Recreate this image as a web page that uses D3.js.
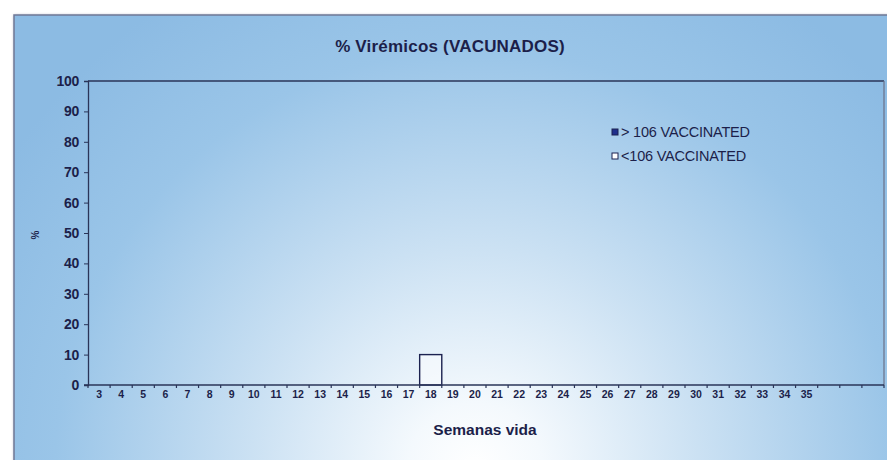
<!DOCTYPE html>
<html>
<head>
<meta charset="utf-8">
<script src="https://cdn.jsdelivr.net/npm/d3@7"></script>
<style>
  html, body { margin: 0; padding: 0; background: #ffffff; }
  svg { display: block; }
  text { font-family: Arial, "Liberation Sans", sans-serif; fill: #1c1f4a; }
</style>
</head>
<body>
<svg id="chart" width="887" height="460"></svg>
<script>
// Weeks of life shown on the category axis (last three slots carry no label)
const weeks = [3,4,5,6,7,8,9,10,11,12,13,14,15,16,17,18,19,20,21,22,23,24,25,26,27,28,29,30,31,32,33,34,35,36,37,38];
const weekLabels = weeks.map(w => w <= 35 ? String(w) : "");
// % viremic animals per week
const gt106 = weeks.map(() => 0);
const lt106 = weeks.map(w => w === 18 ? 10 : 0);
const yTicks = [0,10,20,30,40,50,60,70,80,90,100];
const seriesNames = ["> 106 VACCINATED", "<106 VACCINATED"];

const svg = d3.select("#chart");
const defs = svg.append("defs");

const grad = defs.append("radialGradient")
  .attr("id", "bg").attr("gradientUnits", "userSpaceOnUse")
  .attr("cx", 475).attr("cy", 470).attr("r", 560)
  .attr("fx", 475).attr("fy", 470);
grad.append("stop").attr("offset", 0).attr("stop-color", "#ffffff");
grad.append("stop").attr("offset", 0.12).attr("stop-color", "#f4f9fd");
grad.append("stop").attr("offset", 0.4).attr("stop-color", "#cbe1f3");
grad.append("stop").attr("offset", 0.75).attr("stop-color", "#9ac5e8");
grad.append("stop").attr("offset", 1).attr("stop-color", "#8cbbe3");

const shadow = defs.append("filter").attr("id", "shadow")
  .attr("x", "-5%").attr("y", "-5%").attr("width", "110%").attr("height", "110%");
shadow.append("feDropShadow").attr("dx", 1).attr("dy", 1).attr("stdDeviation", 1.5)
  .attr("flood-color", "#333344").attr("flood-opacity", 0.45);

// Chart frame
svg.append("rect")
  .attr("x", 14).attr("y", 15).attr("width", 900).attr("height", 470)
  .attr("fill", "url(#bg)")
  .attr("stroke", "#6f7896").attr("stroke-width", 1.5)
  .attr("filter", "url(#shadow)");

const plot = { left: 88, top: 81, right: 884, bottom: 385 };

const x = d3.scaleBand().domain(weeks).range([plot.left, plot.right]).padding(0);
const y = d3.scaleLinear().domain([0, 100]).range([plot.bottom, plot.top]);

// Plot area outline
svg.append("line").attr("x1", plot.left).attr("x2", plot.right)
  .attr("y1", plot.top).attr("y2", plot.top)
  .attr("stroke", "#2a3458").attr("stroke-width", 1.3);
svg.append("line").attr("x1", plot.right).attr("x2", plot.right)
  .attr("y1", plot.top).attr("y2", plot.bottom)
  .attr("stroke", "#6a7088").attr("stroke-width", 1.2);

// Bars
const g = svg.append("g");
g.selectAll("rect.gt").data(weeks).join("rect")
  .attr("class", "gt")
  .attr("x", d => x(d))
  .attr("width", x.bandwidth())
  .attr("y", (d, i) => y(gt106[i]))
  .attr("height", (d, i) => y(0) - y(gt106[i]))
  .attr("fill", "#1f2f8c")
  .attr("stroke", "#1c2250")
  .style("display", (d, i) => gt106[i] > 0 ? null : "none");
g.selectAll("rect.lt").data(weeks).join("rect")
  .attr("class", "lt")
  .attr("x", d => x(d))
  .attr("width", x.bandwidth())
  .attr("y", (d, i) => y(lt106[i]))
  .attr("height", (d, i) => y(0) - y(lt106[i]))
  .attr("fill", "#ffffff").attr("fill-opacity", 0.45)
  .attr("stroke", "#1c2250").attr("stroke-width", 1.4)
  .style("display", (d, i) => lt106[i] > 0 ? null : "none");

// Y axis
const yAxis = svg.append("g")
  .attr("transform", `translate(${plot.left},0)`)
  .call(d3.axisLeft(y).tickValues(yTicks).tickSize(4).tickPadding(5));
yAxis.select(".domain").attr("stroke", "#2a3458").attr("stroke-width", 1.3);
yAxis.selectAll(".tick line").attr("stroke", "#2a3458");
yAxis.selectAll(".tick text")
  .style("font-size", "14px").style("font-weight", "bold")
  .style("letter-spacing", "-0.3px")
  .attr("fill", "#1c1f4a");

// X axis: ticks sit between categories, labels at category centres
const xAxis = svg.append("g").attr("transform", `translate(0,${plot.bottom})`);
xAxis.append("line").attr("x1", plot.left - 4).attr("x2", plot.right)
  .attr("y1", 0).attr("y2", 0)
  .attr("stroke", "#2a3458").attr("stroke-width", 1.3);
const boundaries = weeks.map(w => x(w)).concat([plot.right]);
xAxis.selectAll("line.tk").data(boundaries).join("line")
  .attr("class", "tk")
  .attr("x1", d => d).attr("x2", d => d)
  .attr("y1", 0).attr("y2", 3)
  .attr("stroke", "#2a3458").attr("stroke-width", 1.2);
xAxis.selectAll("text.lbl").data(weeks).join("text")
  .attr("class", "lbl")
  .attr("x", d => x(d) + x.bandwidth() / 2)
  .attr("y", 13)
  .attr("text-anchor", "middle")
  .style("font-size", "10.5px").style("font-weight", "bold")
  .text((d, i) => weekLabels[i]);

// Titles
svg.append("text").attr("x", 450).attr("y", 52)
  .attr("text-anchor", "middle")
  .style("font-size", "17px").style("font-weight", "bold")
  .style("letter-spacing", "0.2px")
  .text("% Virémicos (VACUNADOS)");
svg.append("text").attr("x", 485).attr("y", 435)
  .attr("text-anchor", "middle")
  .style("font-size", "15.5px").style("font-weight", "bold")
  .text("Semanas vida");
svg.append("text")
  .attr("transform", "translate(35,235) rotate(-90)")
  .attr("text-anchor", "middle").attr("dy", "0.35em")
  .style("font-size", "10px").style("font-weight", "bold")
  .text("%");

// Legend
const legend = svg.append("g").attr("transform", "translate(612,129)");
const legendFill = ["#1f2f8c", "#ffffff"];
seriesNames.forEach((name, i) => {
  const row = legend.append("g").attr("transform", `translate(0,${i * 24})`);
  row.append("rect").attr("x", 0).attr("y", 0).attr("width", 6).attr("height", 6)
    .attr("fill", legendFill[i]).attr("stroke", "#1c2250").attr("stroke-width", 1);
  row.append("text").attr("x", 9).attr("y", 7.5)
    .style("font-size", "14.5px").style("letter-spacing", "-0.2px")
    .text(name);
});
</script>
</body>
</html>
